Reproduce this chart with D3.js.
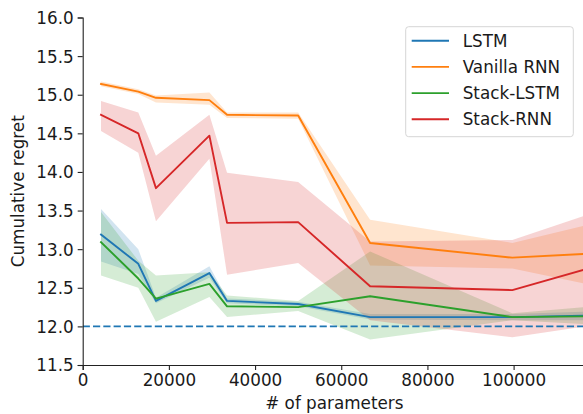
<!DOCTYPE html>
<html><head><meta charset="utf-8">
<script src="https://cdn.jsdelivr.net/npm/d3@7"></script>
<style>
html,body{margin:0;padding:0;background:#fff;}
svg{display:block;font-family:"DejaVu Sans",sans-serif;}
</style></head>
<body>
<svg id="chart" width="583" height="414"></svg>
<script>
// ---- data ----
const params = [4250, 12900, 17000, 29400, 33500, 50000, 66700, 99700, 116800];
const seriesNames = ["LSTM", "Vanilla RNN", "Stack-LSTM", "Stack-RNN"];
const lstmMean = [13.19, 12.81, 12.33, 12.69, 12.33, 12.29, 12.12, 12.12, 12.14];
const lstmLo   = [12.84, 12.68, 12.30, 12.63, 12.30, 12.26, 12.09, 12.08, 12.08];
const lstmHi   = [13.52, 13.00, 12.37, 12.78, 12.36, 12.32, 12.16, 12.16, 12.19];
const rnnMean  = [15.14, 15.04, 14.96, 14.93, 14.74, 14.73, 13.08, 12.89, 12.94];
const rnnLo    = [15.11, 15.01, 14.90, 14.87, 14.70, 14.69, 12.79, 12.75, 12.55];
const rnnHi    = [15.17, 15.07, 14.99, 15.03, 14.77, 14.77, 13.38, 13.08, 13.31];
const slstmMean= [13.09, 12.62, 12.36, 12.55, 12.26, 12.25, 12.39, 12.12, 12.13];
const slstmLo  = [12.66, 12.50, 12.06, 12.38, 12.12, 12.20, 11.83, 12.08, 12.03];
const slstmHi  = [13.48, 12.85, 12.66, 12.70, 12.40, 12.33, 12.97, 12.17, 12.25];
const srnnMean = [14.74, 14.50, 13.79, 14.47, 13.34, 13.35, 12.52, 12.47, 12.74];
const srnnLo   = [14.53, 14.25, 13.36, 14.17, 12.67, 12.82, 12.08, 11.86, 12.00];
const srnnHi   = [14.92, 14.77, 14.21, 14.74, 13.99, 13.87, 13.10, 13.12, 13.44];
const baseline = 12.0;
const xTicks = [0, 20000, 40000, 60000, 80000, 100000];
const yTicks = [11.5, 12.0, 12.5, 13.0, 13.5, 14.0, 14.5, 15.0, 15.5, 16.0];
const colors = ["#1f77b4", "#ff7f0e", "#2ca02c", "#d62728"];

const series = [
  {name: seriesNames[0], mean: lstmMean, lo: lstmLo, hi: lstmHi, color: colors[0]},
  {name: seriesNames[1], mean: rnnMean, lo: rnnLo, hi: rnnHi, color: colors[1]},
  {name: seriesNames[2], mean: slstmMean, lo: slstmLo, hi: slstmHi, color: colors[2]},
  {name: seriesNames[3], mean: srnnMean, lo: srnnLo, hi: srnnHi, color: colors[3]}
];

// ---- layout ----
const L = 82.7, R = 586, T = 17.5, B = 365;
const svg = d3.select("#chart");
const x = d3.scaleLinear().domain([0, 116800]).range([L, R]);
const y = d3.scaleLinear().domain([11.5, 16.0]).range([B, T]);

svg.append("defs").append("clipPath").attr("id","clip")
  .append("rect").attr("x", L).attr("y", T - 2).attr("width", R - L).attr("height", B - T + 2);

const plot = svg.append("g").attr("clip-path","url(#clip)");

const area = d3.area().x((d,i)=>x(params[i])).y0(d=>y(d[0])).y1(d=>y(d[1]));
const line = d3.line().x((d,i)=>x(params[i])).y(d=>y(d));

series.forEach(s => {
  plot.append("path")
    .datum(s.lo.map((v,i)=>[v, s.hi[i]]))
    .attr("d", area)
    .attr("fill", s.color).attr("fill-opacity", 0.2).attr("stroke","none");
});
series.forEach(s => {
  plot.append("path").datum(s.mean).attr("d", line)
    .attr("fill","none").attr("stroke", s.color).attr("stroke-width", 1.9)
    .attr("stroke-linejoin","round").attr("stroke-linecap","square");
});
plot.append("line")
  .attr("x1", L).attr("x2", R).attr("y1", y(baseline)).attr("y2", y(baseline))
  .attr("stroke", colors[0]).attr("stroke-width", 1.9).attr("stroke-dasharray", "7.2,3.1");

// ---- axes ----
const fs = "16.8px";
const xAxis = svg.append("g").attr("transform", `translate(0,${B})`)
  .call(d3.axisBottom(x).tickValues(xTicks).tickFormat(d3.format("d")).tickSize(5).tickPadding(4));
const yAxis = svg.append("g").attr("transform", `translate(${L},0)`)
  .call(d3.axisLeft(y).tickValues(yTicks).tickFormat(d3.format(".1f")).tickSize(5).tickPadding(4));
[xAxis, yAxis].forEach(a => {
  a.select(".domain").attr("stroke","#222").attr("stroke-width",1.1);
  a.selectAll(".tick line").attr("stroke","#222").attr("stroke-width",1.1);
  a.selectAll(".tick text").attr("fill","#1a1a1a").style("font-size", fs)
    .style("font-family","DejaVu Sans");
});
yAxis.selectAll(".tick text").attr("dy","0.35em");
xAxis.selectAll(".tick text").attr("dy","0.74em");

svg.append("text").attr("x", (L + R) / 2).attr("y", 409)
  .attr("text-anchor","middle").style("font-size", fs).attr("fill","#1a1a1a")
  .text("# of parameters");
svg.append("text").attr("transform", `translate(24,${(T + B) / 2}) rotate(-90)`)
  .attr("text-anchor","middle").style("font-size", fs).attr("fill","#1a1a1a")
  .text("Cumulative regret");

// ---- legend ----
const lg = svg.append("g");
lg.append("rect").attr("x", 405.7).attr("y", 26.7).attr("width", 167.6).attr("height", 110)
  .attr("rx", 3).attr("fill","#fff").attr("fill-opacity",0.8)
  .attr("stroke","#d6d6d6").attr("stroke-width",1);
series.forEach((s, i) => {
  const yy = 40.7 + i * 26.2;
  lg.append("line").attr("x1", 411.7).attr("x2", 449).attr("y1", yy).attr("y2", yy)
    .attr("stroke", s.color).attr("stroke-width", 1.9);
  lg.append("text").attr("x", 462.7).attr("y", yy).attr("dy","0.36em")
    .style("font-size", fs).attr("fill","#1a1a1a").text(s.name);
});
</script>
</body></html>
